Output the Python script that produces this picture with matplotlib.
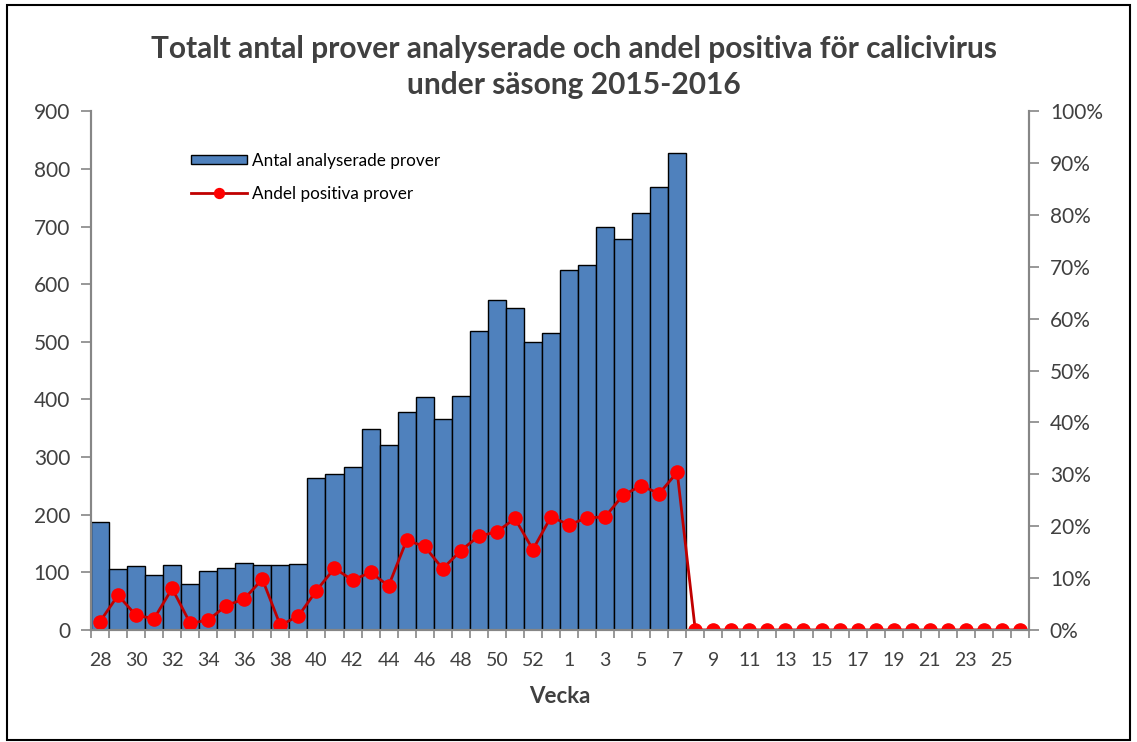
import matplotlib.pyplot as plt
from matplotlib.patches import Rectangle
from matplotlib.ticker import FuncFormatter, FixedLocator

weeks = list(range(28, 54)) + list(range(1, 27))
antal = [188, 105, 111, 95, 112, 79, 103, 108, 117, 113, 113, 114,
         264, 270, 282, 349, 321, 378, 405, 366, 406, 519, 573, 558,
         499, 515, 625, 633, 700, 679, 724, 768, 827]
andel = [1.6, 6.7, 2.8, 2.2, 8.0, 1.3, 1.9, 4.7, 6.0, 9.8, 0.9, 2.7,
         7.6, 11.9, 9.6, 11.1, 8.5, 17.3, 16.1, 11.8, 15.3, 18.1, 18.9, 21.5,
         15.5, 21.8, 20.3, 21.6, 21.8, 26.0, 27.8, 26.3, 30.4] + [0.0] * 19

plt.rcParams['font.family'] = ['Lato', 'DejaVu Sans']
GRAY = '#868686'
TXT = '#404040'

fig = plt.figure(figsize=(11.37, 7.42), dpi=100)
fig.patches.append(Rectangle((0.006, 0.003), 0.988, 0.99, transform=fig.transFigure,
                             fill=False, edgecolor='black', linewidth=1.5))
ax = fig.add_axes([0.080, 0.151, 0.825, 0.699])
ax2 = ax.twinx()

x = list(range(len(weeks)))
bars = ax.bar(x[:len(antal)], antal, width=1.0, color='#4F81BD', edgecolor='black',
              linewidth=1.0, label='Antal analyserade prover')
line, = ax2.plot(x, [v / 100 for v in andel], color='#C00000', linewidth=2,
                 marker='o', markersize=9.5, markerfacecolor='#FF0000',
                 markeredgecolor='#FF0000', label='Andel positiva prover')

ax.set_xlim(-0.5, len(weeks) - 0.5)
ax.set_ylim(0, 900)
ax.set_yticks(range(0, 901, 100))
ax2.set_ylim(0, 1)
ax2.set_yticks([i / 10 for i in range(11)])
ax2.yaxis.set_major_formatter(FuncFormatter(lambda v, p: f'{v * 100:.0f}%'))

ax.xaxis.set_major_locator(FixedLocator([i - 0.5 for i in range(len(weeks) + 1)]))
ax.xaxis.set_minor_locator(FixedLocator(x[::2]))
ax.set_xticklabels([])
ax.set_xticklabels([str(w) for w in weeks[::2]], minor=True)
ax.tick_params(axis='x', which='major', length=6, color=GRAY, width=1.2)
ax.tick_params(axis='x', which='minor', length=0, labelsize=14, labelcolor=TXT, pad=16)

ax.tick_params(axis='y', length=7, color=GRAY, width=1.2, labelsize=15, labelcolor=TXT, pad=8)
ax2.tick_params(axis='y', length=7, color=GRAY, width=1.2, labelsize=15, labelcolor=TXT, pad=8)

for a in (ax, ax2):
    a.spines['top'].set_visible(False)
    for s in ('left', 'right', 'bottom'):
        a.spines[s].set_color(GRAY)
        a.spines[s].set_linewidth(1.5)

ax.set_xlabel('Vecka', fontsize=16, fontweight='bold', color=TXT, labelpad=12)
fig.suptitle('Totalt antal prover analyserade och andel positiva för calicivirus\nunder säsong 2015-2016',
             x=0.505, y=0.953, fontsize=21.5, fontweight='bold', color=TXT, linespacing=1.35)

ax.legend([bars, line], ['Antal analyserade prover', 'Andel positiva prover'],
          loc='upper left', bbox_to_anchor=(0.09, 0.95), frameon=False, fontsize=12.3,
          handlelength=3.3, handleheight=0.5, labelspacing=1.0, handletextpad=0.3,
          markerscale=0.75)

fig.savefig('out.png', dpi=100)
